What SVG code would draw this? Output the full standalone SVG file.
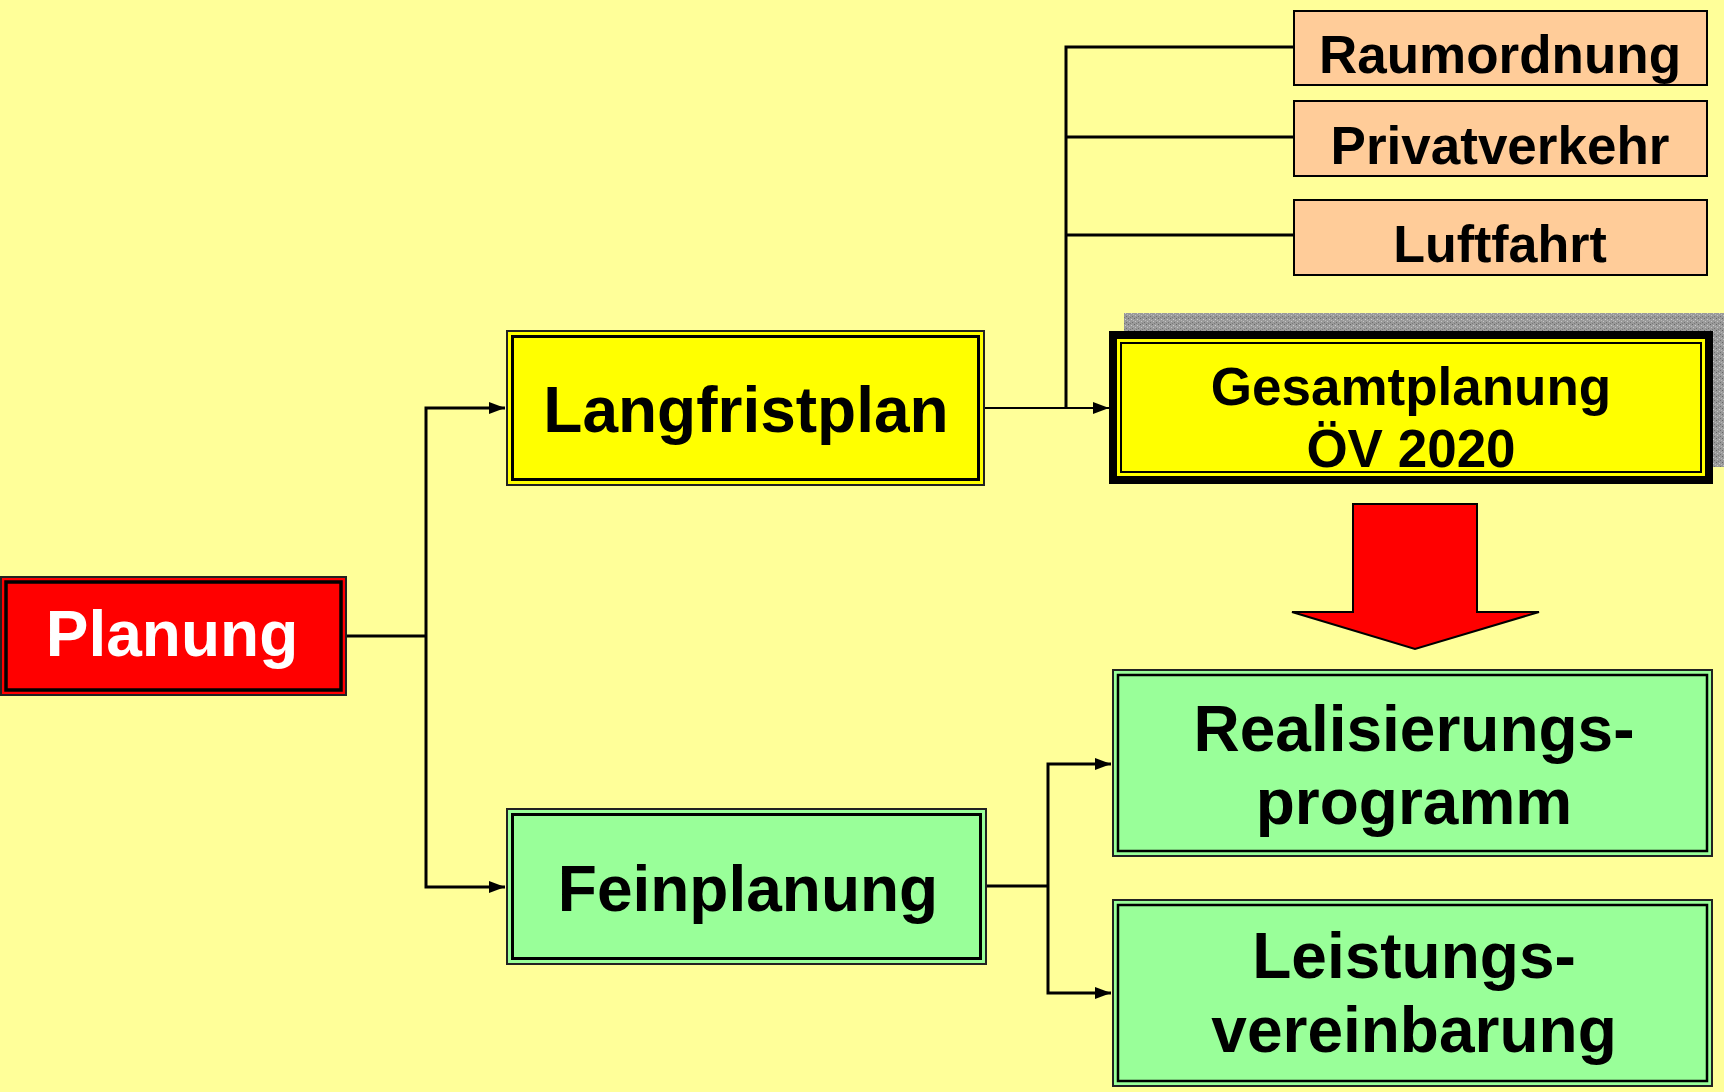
<svg xmlns="http://www.w3.org/2000/svg" width="1724" height="1092" viewBox="0 0 1724 1092">
<style>
.t{font-family:"Liberation Sans",Arial,sans-serif;font-weight:bold;text-anchor:middle}
.c{fill:none;stroke:#000;stroke-width:3}
.thin{fill:none;stroke:#000;stroke-width:2}
</style>
<defs>
<marker id="ah" viewBox="0 0 16 12" refX="16" refY="6" markerWidth="16" markerHeight="12" markerUnits="userSpaceOnUse" orient="auto">
<path d="M0,0 L16,6 L0,12 z" fill="#000"/>
</marker>
<pattern id="noise" width="6" height="6" patternUnits="userSpaceOnUse">
<rect width="6" height="6" fill="#9a9a9a"/>
<rect x="0" y="0" width="1" height="1" fill="#666"/>
<rect x="3" y="1" width="1" height="1" fill="#cfcfcf"/>
<rect x="1" y="3" width="1" height="1" fill="#c4c4c4"/>
<rect x="4" y="4" width="1" height="1" fill="#707070"/>
<rect x="2" y="5" width="1" height="1" fill="#7a7a7a"/>
<rect x="5" y="2" width="1" height="1" fill="#b8b8b8"/>
</pattern>
</defs>
<rect width="1724" height="1092" fill="#ffff99"/>

<g id="connectors">
<path class="c" d="M346 636 H426"/>
<path class="c" d="M426 636 V408 H505" marker-end="url(#ah)"/>
<path class="c" d="M426 636 V887 H505" marker-end="url(#ah)"/>
<path class="thin" d="M984 408 H1109" marker-end="url(#ah)"/>
<path class="c" d="M1066 408 V47 H1294"/>
<path class="c" d="M1066 137 H1294"/>
<path class="c" d="M1066 235 H1294"/>
<path class="c" d="M986 886 H1048"/>
<path class="c" d="M1048 886 V764 H1111" marker-end="url(#ah)"/>
<path class="c" d="M1048 886 V993 H1111" marker-end="url(#ah)"/>
</g>

<g id="planung">
<rect x="1" y="577" width="345" height="118" fill="#ff0000" stroke="#222" stroke-width="2"/>
<rect x="6" y="582" width="335" height="108" fill="none" stroke="#000" stroke-width="3.5"/>
<text class="t" x="172" y="656" font-size="64" fill="#fff">Planung</text>
</g>

<g id="langfristplan">
<rect x="507" y="331" width="477" height="154" fill="#ffff00" stroke="#222" stroke-width="2"/>
<rect x="512.5" y="336.5" width="466" height="143" fill="none" stroke="#000" stroke-width="3"/>
<text class="t" x="746" y="432" font-size="64">Langfristplan</text>
</g>

<g id="feinplanung">
<rect x="507" y="809" width="479" height="155" fill="#99ff99" stroke="#222" stroke-width="2"/>
<rect x="512.5" y="814.5" width="468" height="144" fill="none" stroke="#000" stroke-width="3"/>
<text class="t" x="748" y="911" font-size="64">Feinplanung</text>
</g>

<g id="raumordnung">
<rect x="1294" y="11" width="413" height="74" fill="#ffcc99" stroke="#000" stroke-width="2"/>
<text class="t" x="1500" y="73" font-size="53">Raumordnung</text>
</g>

<g id="privatverkehr">
<rect x="1294" y="101" width="413" height="75" fill="#ffcc99" stroke="#000" stroke-width="2"/>
<text class="t" x="1500" y="164" font-size="53">Privatverkehr</text>
</g>

<g id="luftfahrt">
<rect x="1294" y="200" width="413" height="75" fill="#ffcc99" stroke="#000" stroke-width="2"/>
<text class="t" x="1500" y="262" font-size="52">Luftfahrt</text>
</g>

<g id="gesamtplanung">
<rect x="1124" y="313" width="610" height="154" fill="url(#noise)"/>
<rect x="1113" y="335" width="596" height="145" fill="#ffff00" stroke="#000" stroke-width="8"/>
<rect x="1121" y="343" width="580" height="129" fill="none" stroke="#000" stroke-width="2"/>
<text class="t" x="1411" y="405" font-size="53">Gesamtplanung</text>
<text class="t" x="1411" y="467" font-size="53">ÖV 2020</text>
</g>

<g id="big-arrow">
<path d="M1353 504 H1477 V612 H1539 L1415 649 L1292 612 H1353 Z" fill="#ff0000" stroke="#000" stroke-width="2" stroke-linejoin="miter"/>
</g>

<g id="realisierungsprogramm">
<rect x="1113" y="670" width="599" height="186" fill="#99ff99" stroke="#222" stroke-width="2"/>
<rect x="1118" y="675" width="589" height="176" fill="none" stroke="#000" stroke-width="2.5"/>
<text class="t" x="1414" y="751" font-size="64">Realisierungs-</text>
<text class="t" x="1414" y="824" font-size="64">programm</text>
</g>

<g id="leistungsvereinbarung">
<rect x="1113" y="900" width="599" height="186" fill="#99ff99" stroke="#222" stroke-width="2"/>
<rect x="1118" y="905" width="589" height="176" fill="none" stroke="#000" stroke-width="2.5"/>
<text class="t" x="1414" y="978" font-size="64">Leistungs-</text>
<text class="t" x="1414" y="1052" font-size="64">vereinbarung</text>
</g>
</svg>
